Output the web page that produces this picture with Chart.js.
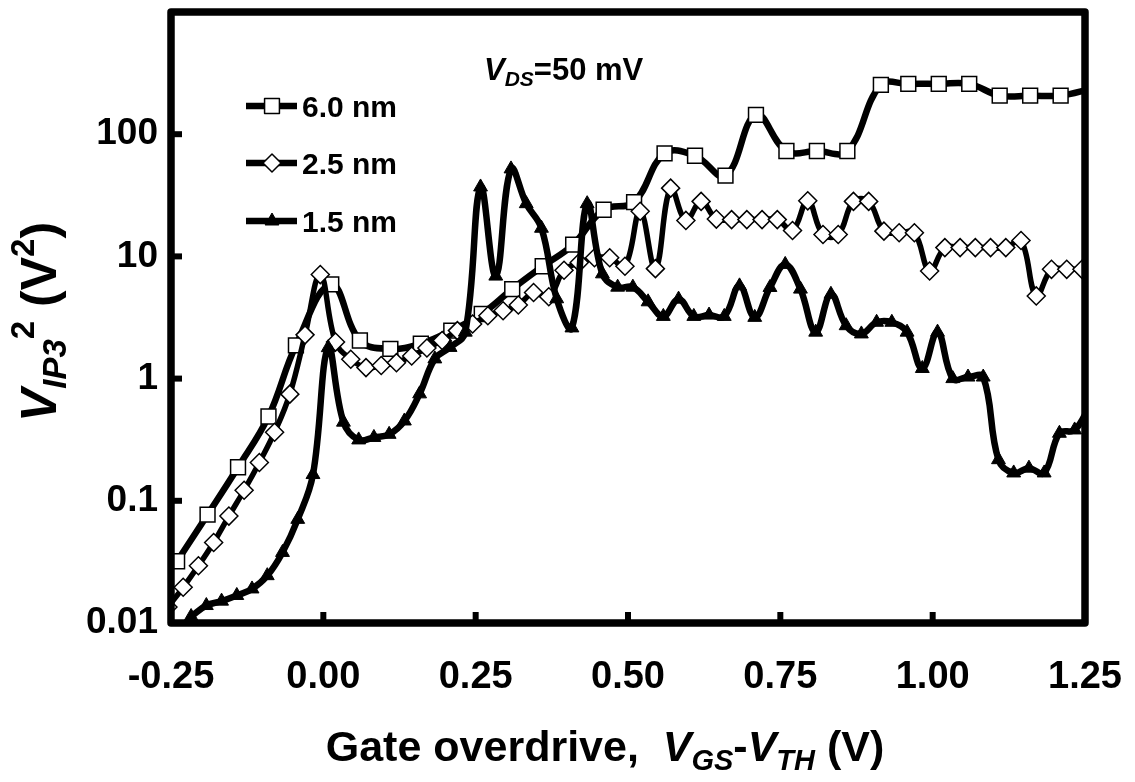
<!DOCTYPE html>
<html><head><meta charset="utf-8">
<script src="https://cdn.jsdelivr.net/npm/chart.js@4/dist/chart.umd.min.js"></script>
<style>html,body{margin:0;padding:0;background:#fff}#wrap{width:1135px;height:782px;position:relative}</style>
</head><body><div id="wrap"><canvas id="c" width="1135" height="782"></canvas></div>
<script>
const seriesNames = ['6.0 nm', '2.5 nm', '1.5 nm'];

const x60 = [-0.24,-0.19,-0.14,-0.09,-0.045,0.013,0.06,0.11,0.16,0.21,0.26,0.31,0.36,0.41,0.46,0.51,0.56,0.61,0.66,0.71,0.76,0.81,0.86,0.915,0.96,1.01,1.06,1.11,1.16,1.21,1.26];
const y60 = [0.032,0.077,0.188,0.49,1.87,5.9,2.05,1.75,1.93,2.47,3.38,5.4,8.3,12.5,24.1,27.8,69.7,66.6,45.8,144,72.8,72.8,72.8,253,258,258,258,207,207,207,235];

const x25 = [-0.255,-0.23,-0.205,-0.18,-0.155,-0.13,-0.105,-0.08,-0.055,-0.03,-0.005,
  0.02,0.045,0.07,0.095,0.12,0.145,0.17,0.195,0.22,0.245,
  0.27,0.295,0.32,0.345,0.37,0.395,0.42,0.445,0.47,0.495,
  0.52,0.545,0.57,0.595,0.62,0.645,0.67,0.695,0.72,0.745,
  0.77,0.795,0.82,0.845,0.87,0.895,0.92,0.945,0.97,0.995,
  1.02,1.045,1.07,1.095,1.12,1.145,1.17,1.195,1.22,1.245];
const y25 = [0.0135,0.0196,0.0294,0.0456,0.075,0.122,0.206,0.364,0.746,2.28,7.1,
  1.99,1.44,1.23,1.28,1.35,1.53,1.78,2.05,2.47,2.8,
  3.27,3.59,4.0,5.06,4.67,7.7,8.9,9.76,9.76,8.3,
  23.4,7.94,36.2,19.7,28.2,20.2,20,20,20,20,
  16.3,28.5,15.1,15.1,28.2,28.2,16.1,15.6,15.6,7.6,
  11.8,11.8,11.8,11.8,11.8,13.5,4.75,7.84,7.84,7.84];

const x15 = [-0.217,-0.192,-0.167,-0.142,-0.117,-0.092,-0.067,-0.042,-0.017,
  0.008,0.033,0.058,0.083,0.108,0.133,0.158,0.183,0.208,0.233,
  0.258,0.283,0.308,0.333,0.358,0.383,0.408,0.433,0.458,0.483,
  0.508,0.533,0.558,0.583,0.608,0.633,0.658,0.683,0.708,0.733,
  0.758,0.783,0.808,0.833,0.858,0.883,0.908,0.933,0.958,0.983,
  1.008,1.033,1.058,1.083,1.108,1.133,1.158,1.183,1.208,1.233,1.258];
const y15 = [0.0113,0.0139,0.0151,0.0168,0.019,0.0244,0.0378,0.0705,0.164,
  1.79,0.44,0.315,0.33,0.35,0.45,0.75,1.45,1.8,2.4,
  37,6.9,52,27,17,4.5,2.6,27,7.2,5.6,
  5.6,4.25,3.23,4.47,3.23,3.31,3.23,5.74,3.17,5.57,
  8.6,5.4,2.4,4.9,2.71,2.32,2.89,2.89,2.4,1.21,
  2.4,1.0,1.03,1.03,0.217,0.169,0.185,0.169,0.357,0.38,0.6];

const xTicks = [-0.25, 0, 0.25, 0.5, 0.75, 1.0, 1.25];
const yTicks = [0.01, 0.1, 1, 10, 100, 1000];
const yTickLabels = ['0.01', '0.1', '1', '10', '100', ''];

const FF = '"Liberation Sans", Arial, sans-serif';
function fnt(p){ return (p.i ? 'italic ' : '') + 'bold ' + p.s + 'px ' + FF; }
function drawRich(ctx, parts, x, y, align){
  let w = 0;
  parts.forEach(p => { ctx.font = fnt(p); p.w = ctx.measureText(p.t).width; w += p.w; });
  let cx = align === 'center' ? x - w / 2 : x;
  ctx.textAlign = 'left'; ctx.textBaseline = 'alphabetic';
  parts.forEach(p => { ctx.font = fnt(p); ctx.fillText(p.t, cx, y + (p.dy || 0)); cx += p.w; });
}

const styles = [
  {pointStyle: 'rect', radius: 10.5, bg: '#fff', bw: 1.5, lw: 6.5},
  {pointStyle: 'rectRot', radius: 9, bg: '#fff', bw: 1.5, lw: 5.5},
  {pointStyle: 'triangle', radius: 8, bg: '#000', bw: 1, lw: 6.5}
];
const xs = [x60, x25, x15], ys = [y60, y25, y15];

const datasets = seriesNames.map((n, k) => ({
  label: n,
  data: xs[k].map((v, i) => ({x: v, y: ys[k][i]})),
  borderColor: '#000',
  borderWidth: styles[k].lw,
  backgroundColor: styles[k].bg,
  pointStyle: styles[k].pointStyle,
  pointRadius: styles[k].radius,
  pointBorderWidth: styles[k].bw,
  pointBorderColor: '#000',
  pointBackgroundColor: styles[k].bg,
  tension: 0.4,
  fill: false,
  order: 3 - k
}));

const CA = {left: 171, right: 1085, top: 12, bottom: 623};

const overlay = {
  id: 'overlay',
  afterDraw(chart){
    const ctx = chart.ctx, a = chart.chartArea;
    const sx = chart.scales.x, sy = chart.scales.y;
    ctx.save();
    ctx.fillStyle = '#000'; ctx.strokeStyle = '#000';
    // inward ticks
    ctx.lineWidth = 6;
    xTicks.forEach(v => {
      const px = sx.getPixelForValue(v);
      ctx.beginPath(); ctx.moveTo(px, a.bottom); ctx.lineTo(px, a.bottom - 11); ctx.stroke();
    });
    yTicks.forEach(v => {
      const py = sy.getPixelForValue(v);
      ctx.beginPath(); ctx.moveTo(a.left, py); ctx.lineTo(a.left + 11, py); ctx.stroke();
    });
    // frame
    ctx.lineWidth = 7.5;
    ctx.lineJoin = 'round';
    ctx.strokeRect(a.left, a.top, a.right - a.left, a.bottom - a.top);
    // legend
    const legY = [106, 163, 221];
    chart.data.datasets.forEach((d, k) => {
      const y = legY[k];
      ctx.lineWidth = 6.5;
      ctx.beginPath(); ctx.moveTo(246, y); ctx.lineTo(297, y); ctx.stroke();
      ctx.fillStyle = styles[k].bg; ctx.lineWidth = styles[k].bw;
      Chart.helpers.drawPoint(ctx, {pointStyle: styles[k].pointStyle, radius: styles[k].radius, borderWidth: styles[k].bw}, 272, y);
      ctx.fillStyle = '#000';
      drawRich(ctx, [{t: d.label, s: 30}], 302, y + 11, 'left');
    });
    // annotation
    drawRich(ctx, [{t: 'V', s: 31, i: true}, {t: 'DS', s: 21, i: true, dy: 6}, {t: '=50 mV', s: 31}], 484, 80, 'left');
    // x title
    drawRich(ctx, [{t: 'Gate overdrive,  ', s: 43}, {t: 'V', s: 43, i: true}, {t: 'GS', s: 29, i: true, dy: 9},
      {t: '-', s: 43}, {t: 'V', s: 43, i: true}, {t: 'TH', s: 29, i: true, dy: 9}, {t: ' (V)', s: 43}], 605, 761, 'center');
    // y title
    ctx.translate(56, 322); ctx.rotate(-Math.PI / 2);
    drawRich(ctx, [{t: 'V', s: 50, i: true}, {t: 'IP3', s: 33, i: true, dy: 10}, {t: '2', s: 33, dy: -22},
      {t: ' (V', s: 50}, {t: '2', s: 33, dy: -22}, {t: ')', s: 50}], 0, 0, 'center');
    ctx.restore();
  }
};

new Chart(document.getElementById('c'), {
  type: 'line',
  data: {datasets},
  options: {
    responsive: false,
    animation: false,
    events: [],
    layout: {padding: {left: 0, right: 1135 - CA.right, top: CA.top, bottom: 0}},
    plugins: {legend: {display: false}, tooltip: {enabled: false}},
    scales: {
      x: {
        type: 'linear', min: -0.25, max: 1.25,
        afterFit(s){ s.height = 782 - CA.bottom; s.paddingLeft = 0; s.paddingRight = 0; },
        afterBuildTicks(s){ s.ticks = xTicks.map(v => ({value: v})); },
        grid: {display: false, drawTicks: false},
        border: {display: false},
        ticks: {color: '#000', padding: 32, maxRotation: 0, autoSkip: false,
          font: {family: FF, size: 38, weight: 'bold'},
          callback: v => v.toFixed(2)}
      },
      y: {
        type: 'logarithmic', min: 0.01, max: 1000,
        afterFit(s){ s.width = CA.left; s.paddingTop = 0; s.paddingBottom = 0; },
        afterBuildTicks(s){ s.ticks = yTicks.map(v => ({value: v})); },
        grid: {display: false, drawTicks: false},
        border: {display: false},
        ticks: {color: '#000', padding: 13, autoSkip: false,
          font: {family: FF, size: 37, weight: 'bold'},
          callback: (v) => { const i = yTicks.indexOf(v); return i >= 0 ? yTickLabels[i] : ''; }}
      }
    }
  },
  plugins: [overlay]
});
</script></body></html>
